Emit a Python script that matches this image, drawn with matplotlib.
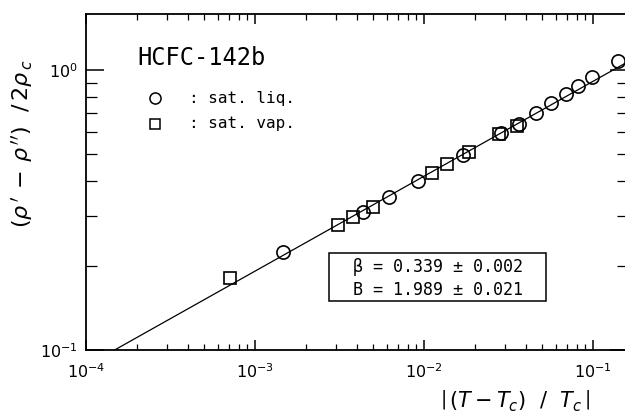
import numpy as np
import matplotlib
matplotlib.use("Agg")
import matplotlib.pyplot as plt
from matplotlib.ticker import LogLocator, NullFormatter

# saturated liquid (circles)
liq_x = [1.47e-3, 4.36e-3, 6.21e-3, 9.21e-3, 1.70e-2, 2.85e-2, 3.63e-2,
         4.61e-2, 5.64e-2, 6.92e-2, 8.15e-2, 9.86e-2, 0.1406]
liq_y = [0.224, 0.311, 0.352, 0.402, 0.497, 0.598, 0.640,
         0.701, 0.762, 0.821, 0.877, 0.944, 1.077]

# saturated vapour (squares)
vap_x = [7.11e-4, 3.10e-3, 3.80e-3, 4.99e-3, 1.11e-2, 1.37e-2, 1.85e-2,
         2.78e-2, 3.55e-2]
vap_y = [0.181, 0.279, 0.299, 0.324, 0.429, 0.461, 0.509,
         0.592, 0.632]

# fitted power law  (rho' - rho'')/2rho_c = B |t|^beta
BETA = 0.339
B = 1.989
fit_x = np.array([1e-4, 0.2])

MONO = "DejaVu Sans Mono"

fig = plt.figure(figsize=(6.25, 4.18), dpi=100)
ax = fig.add_axes([86 / 625, 1 - 350 / 418, 542 / 625, 336 / 418])

ax.plot(fit_x, B * fit_x ** BETA, color="black", lw=0.9, zorder=2)
ax.plot(liq_x, liq_y, "o", ms=9.5, mfc="none", mec="black", mew=1.2, zorder=3)
ax.plot(vap_x, vap_y, "s", ms=8, mfc="none", mec="black", mew=1.2, zorder=3)

ax.set_xscale("log")
ax.set_yscale("log")
ax.set_xlim(1e-4, 0.161)
ax.set_ylim(0.1, 1.585)

ax.xaxis.set_major_locator(LogLocator(base=10, numticks=10))
ax.xaxis.set_minor_locator(LogLocator(base=10, subs=np.arange(2, 10), numticks=10))
ax.xaxis.set_minor_formatter(NullFormatter())
ax.yaxis.set_minor_formatter(NullFormatter())

ax.tick_params(axis="x", which="both", direction="in", top=True, labelsize=11.5, pad=9)
ax.tick_params(axis="x", which="major", length=7, width=1.1)
ax.tick_params(axis="x", which="minor", length=4, width=0.9)
ax.tick_params(axis="y", which="both", direction="in", right=True, labelsize=11.5, pad=6)
ax.tick_params(axis="y", which="major", length=13, width=1.1)
ax.tick_params(axis="y", which="minor", length=8, width=0.9)
for s in ax.spines.values():
    s.set_linewidth(1.3)

# legend drawn by hand like the original
ax.text(0.094, 0.869, "HCFC-142b", transform=ax.transAxes, family=MONO,
        fontsize=17, va="center", ha="left")
ax.plot([0.127], [0.75], "o", transform=ax.transAxes, ms=8, mfc="none",
        mec="black", mew=1.1, clip_on=False)
ax.plot([0.127], [0.673], "s", transform=ax.transAxes, ms=6.5, mfc="none",
        mec="black", mew=1.1, clip_on=False)
ax.text(0.19, 0.75, ": sat. liq.", transform=ax.transAxes, family=MONO,
        fontsize=11.5, va="center", ha="left")
ax.text(0.19, 0.673, ": sat. vap.", transform=ax.transAxes, family=MONO,
        fontsize=11.5, va="center", ha="left")

# parameter box
ax.add_patch(plt.Rectangle((0.448, 0.146), 0.401, 0.143, transform=ax.transAxes,
                           fill=True, fc="white", ec="black", lw=1.1, zorder=4))
ax.text(0.649, 0.247, f"\u03b2 = {BETA:.3f} \u00b1 0.002", transform=ax.transAxes,
        family=MONO, fontsize=12, ha="center", va="center", zorder=5)
ax.text(0.649, 0.179, f"B = {B:.3f} \u00b1 0.021", transform=ax.transAxes,
        family=MONO, fontsize=12, ha="center", va="center", zorder=5)

fig.text(0.824, 0.04, r"$\left|\,(T-T_c)\ \ /\ \ T_c\,\right|$", fontsize=15,
         ha="center", va="center")
fig.text(0.035, 0.655, r"$(\rho\,'\,-\,\rho\,'')\ \ /\,2\rho_{\,c}$", fontsize=16,
         rotation=90, ha="center", va="center")

fig.savefig("out.png", dpi=100)
